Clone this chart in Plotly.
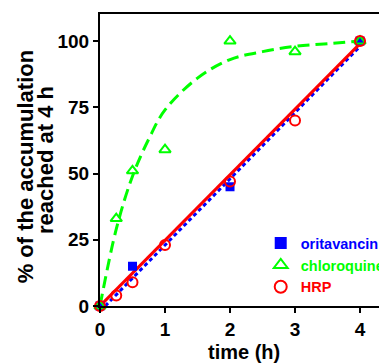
import plotly.graph_objects as go

# Measured data
ori_t = [0, 0.5, 2, 4]
ori_y = [0, 15, 45, 100]
chl_t = [0, 0.25, 0.5, 1, 2, 3, 4]
chl_y = [0, 33, 51, 59, 100, 96, 100]
hrp_t = [0, 0.25, 0.5, 1, 2, 3, 4]
hrp_y = [0, 4, 9, 23, 47, 70, 100]

# Fitted curves
ori_fit_t = [0.08, 4]
ori_fit_y = [0, 98]
chl_fit_t = [0, 0.25, 0.5, 0.75, 1, 1.5, 2, 2.5, 3, 3.5, 4]
chl_fit_y = [0, 29, 49, 63, 74, 86, 93, 96, 98, 99, 100]
hrp_fit_t = [0, 4]
hrp_fit_y = [0, 99]

x_ticks = [0, 1, 2, 3, 4]
y_ticks = [0, 25, 50, 75, 100]

BLUE = "#0000FF"
GREEN = "#00FF00"
RED = "#FF0000"
FONT = "Liberation Sans, Arial, sans-serif"

fig = go.Figure()
# fit lines (clipped)
fig.add_trace(go.Scatter(x=chl_fit_t, y=chl_fit_y, mode="lines", line=dict(color=GREEN, width=3, dash="12px,6px", shape="spline"), showlegend=False, hoverinfo="skip"))
fig.add_trace(go.Scatter(x=ori_fit_t, y=ori_fit_y, mode="lines", line=dict(color=BLUE, width=3, dash="4px,3px"), showlegend=False, hoverinfo="skip"))
fig.add_trace(go.Scatter(x=hrp_fit_t, y=hrp_fit_y, mode="lines", line=dict(color=RED, width=3), showlegend=False, hoverinfo="skip"))

# markers
fig.add_trace(go.Scatter(x=ori_t, y=ori_y, mode="markers", name='<span style="color:#0000FF">oritavancin</span>',
                         marker=dict(symbol="square", color=BLUE, size=9), cliponaxis=False))
fig.add_trace(go.Scatter(x=chl_t, y=chl_y, mode="markers", name='<span style="color:#00FF00">chloroquine</span>',
                         marker=dict(symbol="triangle-up-open", color=GREEN, size=10, line=dict(width=2, color=GREEN)), cliponaxis=False))
fig.add_trace(go.Scatter(x=hrp_t, y=hrp_y, mode="markers", name='<span style="color:#FF0000">HRP</span>',
                         marker=dict(symbol="circle-open", color=RED, size=10, line=dict(width=2, color=RED)), cliponaxis=False))

title_font = dict(size=22, family=FONT, weight="bold", color="black")
fig.update_layout(
    width=379, height=356,
    margin=dict(l=92, r=0, t=6, b=58, autoexpand=False),
    paper_bgcolor="white", plot_bgcolor="white",
    font=dict(family=FONT, size=19, color="black", weight="bold"),
    legend=dict(x=0.56, y=0.27, xanchor="left", yanchor="top", bgcolor="rgba(0,0,0,0)",
                font=dict(size=14.5, family=FONT, weight="bold"), itemsizing="constant",
                tracegroupgap=0, traceorder="normal"),
    annotations=[
        dict(text="% of the accumulation", xref="paper", yref="paper", x=0, y=0.475, xanchor="center", yanchor="middle",
             xshift=-75, textangle=-90, showarrow=False, font=title_font),
        dict(text="reached at 4 h", xref="paper", yref="paper", x=0, y=0.5, xanchor="center", yanchor="middle",
             xshift=-55, textangle=-90, showarrow=False, font=title_font),
        dict(text="time (h)", xref="paper", yref="paper", x=0.5, y=0, xanchor="center", yanchor="middle",
             yshift=-46, showarrow=False, font=dict(size=20, family=FONT, weight="bold", color="black")),
    ],
)
fig.update_xaxes(range=[0, 4.415], tickvals=x_ticks, ticktext=[str(v) for v in x_ticks], automargin=False,
                 showline=True, linecolor="black", linewidth=2, mirror=True,
                 ticks="outside", ticklen=5, tickwidth=2, tickcolor="black",
                 showgrid=False, zeroline=False)
fig.update_yaxes(range=[0, 110.2], tickvals=y_ticks, ticktext=[str(v) for v in y_ticks], automargin=False,
                 showline=True, linecolor="black", linewidth=2,
                 ticks="outside", ticklen=5, tickwidth=2, tickcolor="black",
                 showgrid=False, zeroline=False)

fig.write_html("out.html")
